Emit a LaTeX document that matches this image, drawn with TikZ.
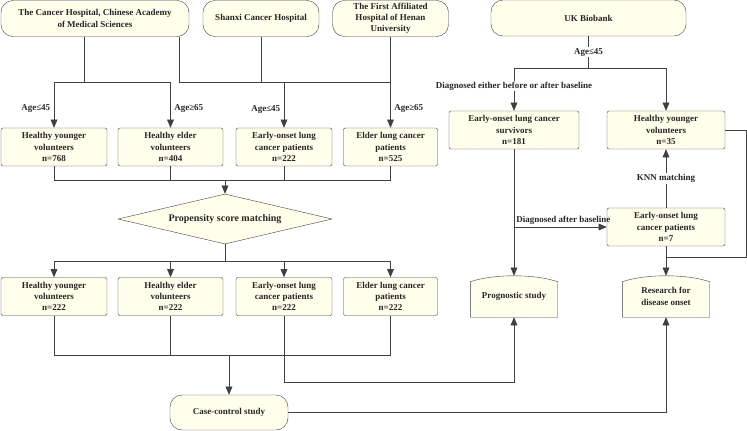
\documentclass[tikz,border=0pt]{standalone}
\usepackage{fontspec}
\setmainfont{Liberation Serif}
\usetikzlibrary{shapes,arrows,calc,backgrounds}

\definecolor{boxfill}{RGB}{255,255,236}
\definecolor{edgegray}{RGB}{64,64,64}

\begin{document}
\begin{tikzpicture}[x=1pt,y=-1pt,
  font=\fontsize{9}{11.3}\selectfont\bfseries,
  every node/.style={text=black!85},
  box/.style={draw=edgegray, fill=boxfill, rounded corners=2pt, align=center, inner sep=0pt, minimum height=38pt},
  source/.style={draw=edgegray, fill=boxfill, rounded corners=12pt, align=center, inner sep=0pt, minimum height=36pt},
  arch/.style={align=center, inner sep=0pt, minimum width=87pt, minimum height=41pt},
  conn/.style={draw=edgegray, line width=0.9pt},
  connarrow/.style={conn, -triangle 45},
  tag/.style={fill=white, inner sep=1pt}]
  % \draw[step=50,thin,gray!40] (0,0) grid (747,431);
  \useasboundingbox (0,0) rectangle (747,431);

  \node[source, minimum width=188pt] (cancerNode) at (95,18.5) {The Cancer Hospital, Chinese Academy\\of Medical Sciences};
  \node[source, minimum width=116pt] (shanxiNode) at (261,18.5) {Shanxi Cancer Hospital};
  \node[source, minimum width=116pt] (henanNode) at (390.5,18.5) {The First Affiliated\\Hospital of Henan\\University};
  \node[source, minimum width=195pt] (biobankNode) at (588.5,18) {UK Biobank};

  \node[box, minimum width=106pt] (youngANode) at (54,147) {Healthy younger\\volunteers\\n=768};
  \node[box, minimum width=105pt] (elderANode) at (170.5,147) {Healthy elder\\volunteers\\n=404};
  \node[box, minimum width=96pt] (earlyANode) at (284,147) {Early-onset lung\\cancer patients\\n=222};
  \node[box, minimum width=94pt] (elderLcANode) at (390.5,147) {Elder lung cancer\\patients\\n=525};

  \node[draw=edgegray, fill=boxfill, diamond, aspect=4.28, inner sep=0pt, minimum width=214pt, minimum height=50pt, font=\fontsize{10}{12}\selectfont\bfseries] (psmNode) at (225,219) {Propensity score matching};

  \node[box, minimum width=106pt] (youngBNode) at (54,296.5) {Healthy younger\\volunteers\\n=222};
  \node[box, minimum width=105pt] (elderBNode) at (170.5,296.5) {Healthy elder\\volunteers\\n=222};
  \node[box, minimum width=96pt] (earlyBNode) at (284,296.5) {Early-onset lung\\cancer patients\\n=222};
  \node[box, minimum width=94pt] (elderLcBNode) at (390.5,296.5) {Elder lung cancer\\patients\\n=222};

  \node[source, minimum width=118pt, minimum height=35pt] (caseNode) at (229,412.5) {Case-control study};

  \node[box, minimum width=130pt] (survNode) at (514,130) {Early-onset lung cancer\\survivors\\n=181};
  \node[box, minimum width=118pt] (healthyCNode) at (666,130) {Healthy younger\\volunteers\\n=35};
  \node[box, minimum width=118pt] (earlyCNode) at (666,227) {Early-onset lung\\cancer patients\\n=7};
  \node[arch] (prognNode) at (514,296.5) {Prognostic study};
  \node[arch] (researchNode) at (666,296.5) {Research for\\disease onset};

  \begin{scope}[on background layer]
    \foreach \n in {prognNode, researchNode}
      \draw[draw=edgegray, fill=boxfill] (\n.south west) -- (\n.south east) -- ([yshift=-6pt]\n.north east)
        .. controls ([xshift=-22pt,yshift=2pt]\n.north east) and ([xshift=22pt,yshift=2pt]\n.north west) .. ([yshift=-6pt]\n.north west) -- cycle;
  \end{scope}

  % hospitals to the four groups
  \coordinate (forkA) at (84,82);
  \coordinate (forkB) at (179,82);
  \draw[conn] (cancerNode.south -| forkA) -- (forkA);
  \draw[connarrow] (forkA) -| (youngANode.north) node[pos=0.79, left] {Age≤45};
  \draw[connarrow] (forkA) -| (elderANode.north) node[pos=0.79, right] {Age≥65};
  \draw[conn] (cancerNode.south -| forkB) -- (forkB) -- (forkB -| henanNode.south);
  \draw[conn] (shanxiNode.south) -- (shanxiNode.south |- forkB);
  \draw[connarrow] (forkB -| earlyANode.north) -- (earlyANode.north) node[pos=0.59, left] {Age≤45};
  \draw[connarrow] (henanNode.south) -- (elderLcANode.north) node[pos=0.79, right] {Age≥65};

  \coordinate (forkC) at (225,180);
  \draw[conn] (youngANode.south) |- (forkC -| elderLcANode.south) -- (elderLcANode.south);
  \draw[conn] (elderANode.south) -- (elderANode.south |- forkC);
  \draw[conn] (earlyANode.south) -- (earlyANode.south |- forkC);
  \draw[connarrow] (forkC) -- (psmNode.north);

  \coordinate (forkD) at (225,261);
  \draw[conn] (psmNode.south) -- (forkD);
  \foreach \n in {youngBNode, elderBNode, earlyBNode, elderLcBNode}
    \draw[connarrow] (forkD) -| (\n.north);

  \coordinate (forkE) at (229,355);
  \draw[conn] (youngBNode.south) |- (forkE -| elderLcBNode.south) -- (elderLcBNode.south);
  \draw[conn] (elderBNode.south) -- (elderBNode.south |- forkE);
  \draw[connarrow] (forkE) -- (caseNode.north);

  \coordinate (bendF) at (514,382);
  \draw[connarrow] (earlyBNode.south) |- (bendF) -- (prognNode.south);
  \draw[connarrow] (caseNode.east) -| (researchNode.south);

  % UK Biobank side
  \coordinate (forkG) at (588.5,68);
  \draw[conn] (biobankNode.south) -- (forkG) node[midway, tag] {Age≤45};
  \draw[connarrow] (forkG) -| (survNode.north) node[pos=0.71, tag] {Diagnosed either before or after baseline};
  \draw[connarrow] (forkG) -| (healthyCNode.north);

  \coordinate (forkH) at (514,227);
  \draw[connarrow] (survNode.south) -- (prognNode.north);
  \draw[connarrow] (forkH) -- (earlyCNode.west) node[pos=0, above right, inner sep=2pt] {Diagnosed after baseline};
  \draw[connarrow] (earlyCNode.north) -- (healthyCNode.south) node[midway, tag] {KNN matching};

  \coordinate (loopR) at (746,257);
  \draw[conn] (healthyCNode.east) -| (loopR) -- (loopR -| researchNode.north);
  \draw[connarrow] (earlyCNode.south) -- (researchNode.north);

\end{tikzpicture}
\end{document}
